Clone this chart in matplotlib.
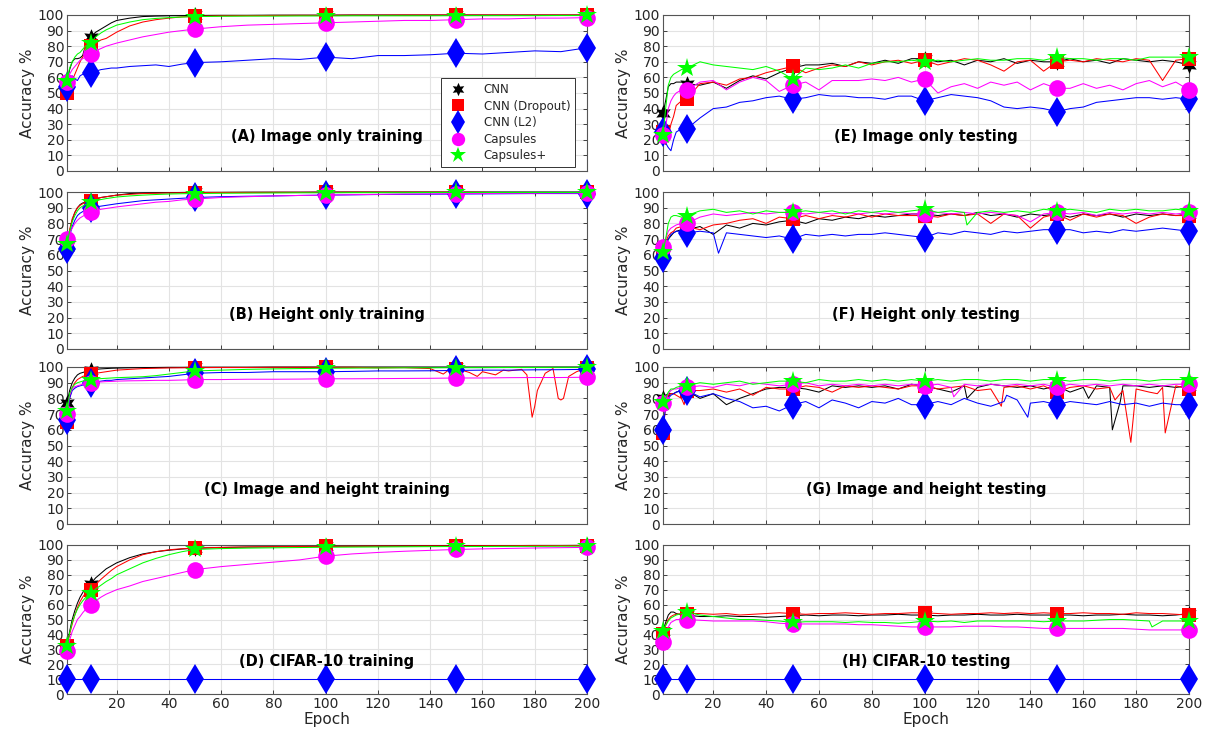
import matplotlib
matplotlib.use("Agg")
import matplotlib.pyplot as plt
from matplotlib.lines import Line2D

# epoch grids the values were read at
EP_TRAIN = [1, 2, 3, 4, 5, 6, 7, 8, 10, 12, 14, 16, 18, 20, 25, 30, 35, 40, 45, 50,
            60, 70, 80, 90, 100, 110, 120, 130, 140, 150, 160, 170, 180, 190, 200]
EP_TEST = [1, 2, 3, 4, 5, 6, 8, 10] + list(range(15, 205, 5))
MARK_EP = [1, 10, 50, 100, 150, 200]

NAMES = ["CNN", "CNN (Dropout)", "CNN (L2)", "Capsules", "Capsules+"]
COLORS = ["black", "#ff0000", "#0000ff", "#ff00ff", "#00ff00"]
MARKERS = [(6, 1, 0), "s", "d", "o", "*"]
MSIZES = [12, 10, 15, 12, 15]

# (A) Image only training
A_CNN = [57, 65, 70, 72, 72, 72.5, 74, 80, 86, 89, 91, 93, 95, 96.5, 98, 99, 99.3, 99.5, 99.6, 99.7,
         99.8, 99.8, 99.9, 99.9, 99.9, 100, 100, 100, 100, 100, 100, 100, 100, 100, 100]
A_DROP = [50, 55, 58, 62, 66, 70, 73, 76, 80, 82, 84, 85, 87, 89, 93, 95.5, 97, 98, 98.8, 99.2,
          99.5, 99.6, 99.7, 99.8, 99.8, 99.9, 99.9, 100, 100, 100, 100, 100, 100, 100, 100]
A_L2 = [54, 60, 61, 59, 58, 61, 62, 62, 63, 64, 65, 65.5, 66, 66, 67, 67.5, 68, 67, 68.5, 69.5,
        70, 71, 72, 71.5, 73, 72, 74, 74, 74.5, 75.5, 75, 76, 77, 76.5, 79]
A_CAPS = [57, 62, 65, 67, 69, 71, 72, 73, 75, 77, 78.5, 80, 81, 82, 84, 86, 87.5, 89, 90, 91,
          92.5, 93.5, 94, 94.5, 95, 95.5, 96, 96.5, 96.5, 97, 97.5, 97.5, 98, 98, 98.3]
A_CAPSP = [58, 66, 70, 73, 75, 76, 78, 80, 82, 86, 88.5, 90.5, 92, 93.5, 95.5, 97, 97.8, 98.3, 98.7, 99,
           99.2, 99.3, 99.3, 99.4, 99.4, 99.5, 99.5, 99.5, 99.5, 99.6, 99.6, 99.6, 99.6, 99.7, 99.7]

# (B) Height only training
B_CNN = [65, 75, 82, 87, 90, 92, 93, 93.5, 94.5, 95.5, 96.5, 97, 97.5, 98, 99, 99.3, 99.5, 99.6, 99.7, 99.8,
         99.8, 99.9, 99.9, 99.9, 100, 100, 100, 100, 100, 100, 100, 100, 100, 100, 100]
B_DROP = [67, 76, 83, 87, 90, 91.5, 92.5, 93.5, 94.5, 95.5, 96.5, 97, 97.5, 98, 98.5, 99, 99.2, 99.4, 99.5, 99.6,
          99.7, 99.7, 99.8, 99.8, 99.8, 99.9, 99.9, 99.9, 99.9, 99.9, 99.8, 99.5, 99, 99.5, 99.8]
B_L2 = [64, 72, 78, 82, 85, 86.5, 87.5, 88.5, 90, 90.5, 91, 91.5, 92, 92.5, 93.5, 94.5, 95, 95.5, 96, 96.5,
        97, 97.3, 97.5, 97.8, 98, 98.2, 98.4, 98.5, 98.6, 98.7, 98.8, 98.9, 99, 99, 99]
B_CAPS = [70, 74, 77, 80, 82, 83.5, 84.5, 85.5, 87, 88, 89, 89.5, 90, 90.5, 91.5, 92.5, 93.5, 94, 95, 95.5,
          96.5, 97, 97.5, 97.8, 98, 98.3, 98.5, 98.7, 98.8, 99, 99, 99.2, 99.2, 99.3, 99.3]
B_CAPSP = [67, 75, 81, 85, 88, 90, 91, 92, 93.5, 94.5, 95.2, 95.8, 96.3, 96.8, 97.5, 98, 98.4, 98.7, 98.9, 99,
           99.2, 99.3, 99.4, 99.5, 99.5, 99.6, 99.6, 99.6, 99.7, 99.7, 99.7, 99.7, 99.7, 99.7, 99.7]

# (C) Image and height training
C_CNN = [77, 85, 90, 93, 95, 96, 96.5, 97, 98, 98.5, 98.8, 99, 99.2, 99.3, 99.5, 99.6, 99.7, 99.8, 99.8, 99.9,
         99.9, 99.9, 100, 100, 100, 100, 100, 100, 100, 100, 100, 100, 100, 100, 100]
C_DROP = [65, 80, 87, 90, 92, 93, 94, 94.5, 95.5, 96, 96.5, 97, 97.5, 98, 98.5, 99, 99.2, 99.4, 99.5, 99.6,
          99.7, 99.7, 99.8, 99.8, 99.8, 99.8, 99.5, 99.6, 99, 99, 97, 97.5, 75, 79, 99.5]
C_DROP_X = [(145, 95.5), (147, 98), (155, 96.5), (158, 94), (165, 95), (168, 98), (175, 98.5), (177, 95),
            (179, 68), (181, 85), (184, 96), (187, 99), (189, 80), (191, 80), (193, 94), (196, 97)]
C_L2 = [66, 80, 85, 86.5, 87.5, 88, 88.5, 89, 90, 90.5, 91, 91.5, 91.5, 92, 92.5, 93, 93.5, 94, 95, 96,
        96.5, 96.5, 97, 97, 97, 97.2, 97.5, 97.5, 97.6, 97.8, 98, 98, 98.2, 98.3, 98.5]
C_CAPS = [70, 82, 86, 87.5, 88, 88.5, 89, 89.5, 90, 90.3, 90.5, 90.7, 90.8, 91, 91.2, 91.3, 91.5, 91.5, 91.7, 92,
          92, 92.2, 92.2, 92.3, 92.5, 92.5, 92.6, 92.7, 92.8, 93, 93, 93.2, 93.3, 93.3, 93.5]
C_CAPSP = [72, 83, 87, 89, 90, 90.5, 91, 91.3, 92, 92.3, 92.6, 92.8, 93, 93.2, 93.5, 93.8, 94.5, 95.5, 96.5, 97.5,
           98, 98.5, 98.8, 99, 99.2, 99.3, 99.4, 99.5, 99.5, 99.6, 99.6, 99.7, 99.7, 99.8, 99.8]

# (D) CIFAR-10 training
D_CNN = [32, 42, 50, 56, 61, 65, 68, 71, 74, 78, 81, 84, 86, 88, 91.5, 94, 95.5, 96.5, 97.3, 97.8,
         98.3, 98.6, 98.8, 99, 99.1, 99.2, 99.3, 99.4, 99.5, 99.5, 99.6, 99.6, 99.7, 99.7, 99.8]
D_DROP = [32, 40, 47, 53, 58, 62, 65, 67.5, 70, 73.5, 77, 80, 83, 85.5, 90, 93.5, 95.5, 96.8, 97.5, 98,
          98.4, 98.7, 98.9, 99, 99.1, 99.2, 99.3, 99.3, 99.4, 99.4, 99.5, 99.5, 99.6, 99.6, 99.6]
D_L2 = [10] * len(EP_TRAIN)
D_CAPS = [29, 36, 42, 46, 50, 52, 54.5, 56.5, 59.5, 62.5, 65, 67, 68.5, 70, 72.5, 75.5, 77.5, 79.5, 81.5, 83.5,
          85.5, 87, 88.5, 90, 92.5, 94, 95, 95.8, 96.4, 97, 97.4, 97.7, 98, 98.2, 98.4]
D_CAPSP = [32, 41, 48, 53, 57, 60, 62.5, 64.5, 67.5, 70.5, 73, 75.5, 77.5, 80, 84, 88, 91, 93.5, 95.5, 97,
           97.6, 97.9, 98.1, 98.3, 98.5, 98.6, 98.7, 98.8, 98.9, 99, 99, 99.1, 99.1, 99.2, 99.2]

# (E) Image only testing
E_CNN = [37, 45, 54, 56, 56, 57, 57, 56, 55, 57, 53, 58, 61, 59, 63, 66,
         68, 68, 69, 67, 70, 69, 71, 69, 72, 72, 70, 71, 68, 71, 70, 72, 69, 71, 70, 70,
         72, 70, 71, 69, 72, 71, 70, 71, 70, 68]
E_DROP = [25, 17, 22, 30, 35, 42, 45, 46, 56, 57, 55, 59, 60, 63, 65, 67,
          63, 66, 68, 67, 70, 68, 70, 71, 69, 71, 68, 70, 72, 71, 68, 64, 70, 71, 64, 70,
          71, 70, 72, 71, 70, 72, 71, 58, 71, 72]
E_L2 = [25, 18, 15, 13, 20, 25, 27, 27, 34, 40, 41, 44, 45, 47, 48, 46,
        47, 49, 48, 48, 47, 47, 46, 48, 48, 45, 47, 49, 48, 47, 45, 41, 40, 41, 40, 38,
        40, 41, 44, 45, 46, 47, 47, 46, 47, 46]
E_CAPS = [23, 28, 40, 45, 48, 50, 52, 52, 57, 58, 52, 57, 60, 58, 51, 55,
          57, 52, 58, 58, 58, 59, 58, 60, 57, 59, 50, 54, 56, 53, 57, 55, 57, 52, 56, 53,
          53, 56, 53, 55, 52, 56, 58, 54, 57, 52]
E_CAPSP = [23, 40, 55, 60, 62, 63, 65, 66, 70, 68, 67, 66, 65, 67, 64, 59,
           66, 65, 66, 68, 66, 69, 70, 70, 71, 70, 71, 70, 71, 72, 71, 71, 72, 72, 71, 73,
           72, 72, 71, 72, 72, 71, 73, 73, 73, 73]

# (F) Height only testing
F_CNN = [60, 66, 70, 72, 74, 75, 76, 76, 78, 73, 79, 77, 80, 79, 81, 82,
         80, 83, 82, 84, 83, 85, 84, 85, 86, 86, 85, 86, 85, 87, 85, 86, 84, 86, 85, 86,
         84, 86, 85, 86, 84, 86, 85, 86, 85, 86]
F_DROP = [62, 68, 72, 74, 75, 77, 78, 78, 76, 79, 80, 82, 83, 80, 84, 83,
          85, 83, 85, 84, 86, 84, 86, 85, 85, 85, 84, 86, 85, 86, 80, 86, 85, 77, 84, 86,
          82, 86, 84, 86, 85, 80, 84, 86, 85, 85]
F_L2 = [58, 65, 70, 73, 74, 75, 75, 74, 75, 74, 74, 73, 72, 71, 72, 70,
        73, 72, 73, 72, 73, 73, 74, 73, 72, 71, 74, 73, 75, 74, 73, 75, 74, 75, 76, 76,
        76, 74, 75, 74, 76, 75, 76, 77, 76, 75]
F_L2_X = [(22, 61)]
F_CAPS = [65, 70, 75, 77, 78, 79, 80, 80, 84, 86, 85, 86, 87, 86, 87, 87,
          86, 87, 86, 87, 86, 87, 86, 87, 86, 86, 87, 86, 87, 86, 87, 86, 85, 81, 86, 87,
          86, 87, 85, 87, 86, 87, 86, 87, 86, 87]
F_CAPSP = [62, 70, 80, 84, 85, 85, 84, 85, 88, 89, 87, 88, 86, 88, 87, 87,
           88, 87, 88, 86, 88, 87, 88, 87, 88, 89, 87, 88, 87, 87, 88, 87, 88, 87, 89, 88,
           89, 88, 87, 89, 88, 89, 88, 88, 89, 88]
F_CAPSP_X = [(116, 79)]

# (G) Image and height testing
G_CNN = [80, 82, 83, 83, 83, 84, 85, 85, 80, 83, 76, 80, 83, 86, 87, 87,
         86, 84, 88, 87, 88, 87, 88, 86, 89, 88, 86, 84, 88, 87, 89, 88, 87, 88, 86, 88,
         84, 87, 88, 87, 88, 88, 87, 88, 87, 88]
G_CNN_X = [(116, 80), (162, 80), (171, 60), (174, 78)]
G_DROP = [58, 75, 82, 83, 83, 82, 80, 85, 85, 86, 84, 86, 82, 87, 86, 86,
          88, 87, 84, 88, 87, 88, 87, 86, 88, 88, 86, 87, 88, 85, 86, 87, 88, 86, 88, 84,
          87, 88, 86, 87, 85, 86, 84, 87, 88, 86]
G_DROP_X = [(9, 76), (129, 75), (172, 79), (178, 52), (188, 83), (191, 58)]
G_L2 = [60, 75, 80, 82, 83, 84, 85, 85, 81, 83, 80, 78, 74, 75, 72, 76,
        78, 74, 79, 77, 74, 78, 77, 80, 76, 76, 78, 76, 80, 77, 75, 78, 79, 77, 78, 76,
        78, 77, 76, 78, 76, 77, 75, 77, 76, 76]
G_L2_X = [(131, 82), (139, 68)]
G_CAPS = [77, 80, 83, 85, 86, 86, 87, 87, 88, 87, 89, 88, 90, 89, 88, 89,
          90, 88, 89, 88, 89, 88, 89, 88, 89, 88, 89, 87, 89, 88, 89, 88, 89, 88, 89, 87,
          89, 88, 89, 88, 89, 88, 89, 88, 89, 89]
G_CAPS_X = [(111, 81)]
G_CAPSP = [78, 80, 84, 86, 86, 87, 88, 88, 90, 89, 90, 91, 89, 90, 91, 91,
           90, 92, 91, 91, 92, 91, 92, 91, 92, 91, 92, 91, 92, 92, 91, 92, 92, 91, 92, 92,
           91, 92, 92, 91, 92, 92, 91, 92, 92, 92]

# (H) CIFAR-10 testing
H_CNN = [42, 48, 53, 55, 55, 54, 53, 53, 52, 52, 52.5, 52, 52, 51.5, 52, 52.5,
         53, 52.5, 53, 53, 52.5, 53, 53, 53.5, 53, 53, 52.5, 53, 53, 53.5, 53, 53, 53.5, 53, 53, 53,
         53, 52.5, 53, 53, 53.5, 53, 53, 52.5, 53, 54]
H_DROP = [40, 46, 50, 52, 53, 53.5, 54, 54, 54, 53.5, 54, 53, 53.5, 54, 54.5, 54,
          53.5, 54, 54, 54.5, 54, 53.5, 54, 54, 54.5, 54.5, 54, 53.5, 54, 54, 54.5, 54, 54.5, 54, 54.5, 54,
          54, 54.5, 54, 54, 53.5, 54.5, 54, 54, 53.5, 53]
H_L2 = [10] * len(EP_TEST)
H_CAPS = [35, 40, 45, 48, 49, 50, 50, 50, 49.5, 49, 49, 49, 49, 48.5, 47.5, 47,
          47, 47, 47, 47, 46.5, 46.5, 46, 45.5, 45, 45, 45, 45, 45.5, 45.5, 45.5, 45, 45, 44.5, 44, 44,
          44, 44, 44, 44, 44, 43.5, 43, 43, 43, 43]
H_CAPSP = [42, 46, 49, 51, 52, 53, 54, 55, 53, 52, 51, 50, 50, 49.5, 49, 48,
           48.5, 48.5, 48.5, 48, 48.5, 48, 48, 47.5, 48, 49, 48.5, 49, 48, 49, 49, 49, 49, 49, 48.5, 49,
           49, 49, 49.5, 50, 50, 49.5, 49, 49, 49, 49]
H_CAPSP_X = [(186, 45)]

PANELS = [
    ("(A) Image only training", EP_TRAIN, [A_CNN, A_DROP, A_L2, A_CAPS, A_CAPSP], {}),
    ("(B) Height only training", EP_TRAIN, [B_CNN, B_DROP, B_L2, B_CAPS, B_CAPSP], {}),
    ("(C) Image and height training", EP_TRAIN, [C_CNN, C_DROP, C_L2, C_CAPS, C_CAPSP], {1: C_DROP_X}),
    ("(D) CIFAR-10 training", EP_TRAIN, [D_CNN, D_DROP, D_L2, D_CAPS, D_CAPSP], {}),
    ("(E) Image only testing", EP_TEST, [E_CNN, E_DROP, E_L2, E_CAPS, E_CAPSP], {}),
    ("(F) Height only testing", EP_TEST, [F_CNN, F_DROP, F_L2, F_CAPS, F_CAPSP], {2: F_L2_X, 4: F_CAPSP_X}),
    ("(G) Image and height testing", EP_TEST, [G_CNN, G_DROP, G_L2, G_CAPS, G_CAPSP],
     {0: G_CNN_X, 1: G_DROP_X, 2: G_L2_X, 3: G_CAPS_X}),
    ("(H) CIFAR-10 testing", EP_TEST, [H_CNN, H_DROP, H_L2, H_CAPS, H_CAPSP], {4: H_CAPSP_X}),
]


def merge(ep, vals, extra):
    pts = sorted(list(zip(ep, vals)) + list(extra))
    return [p[0] for p in pts], [p[1] for p in pts]


W, H = 1209, 740
ROWS = [(15, 171), (192, 349), (367, 524), (545, 694)]
COLS = [(67, 587), (663, 1189)]
DARK = "#262626"

fig = plt.figure(figsize=(W / 100, H / 100), dpi=100)

for i, (title, ep, series, extras) in enumerate(PANELS):
    col, row = divmod(i, 4)
    x0, x1 = COLS[col]
    top, bot = ROWS[row]
    ax = fig.add_axes([x0 / W, 1 - bot / H, (x1 - x0) / W, (bot - top) / H])

    for k, vals in enumerate(series):
        xs, ys = merge(ep, vals, extras.get(k, []))
        ax.plot(xs, ys, color=COLORS[k], lw=0.75, marker=MARKERS[k], ms=MSIZES[k],
                markevery=[xs.index(e) for e in MARK_EP], markeredgewidth=0,
                clip_on=False, zorder=3 + k)

    ax.set_xlim(1, 200)
    ax.set_ylim(0, 100)
    ax.set_xticks(range(20, 201, 20))
    ax.set_yticks(range(0, 101, 10))
    ax.grid(True, color="#e3e3e3", lw=0.8)
    ax.set_axisbelow(True)
    ax.tick_params(direction="in", top=True, right=True, length=3, width=0.6,
                   labelsize=10, colors=DARK, pad=2)
    for sp in ax.spines.values():
        sp.set_color("#555555")
        sp.set_linewidth(0.8)
    ax.set_ylabel("Accuracy %", fontsize=11, color=DARK, labelpad=2)
    if row == 3:
        ax.set_xlabel("Epoch", fontsize=11, color=DARK, labelpad=1)
    else:
        ax.tick_params(labelbottom=False)
    ax.text(0.5, 0.22, title, transform=ax.transAxes, ha="center", va="center",
            fontsize=10.5, fontweight="bold", color="black", zorder=10)

    if i == 0:
        handles = [Line2D([], [], ls="none", marker=MARKERS[k], ms=MSIZES[k] * 0.8,
                          color=COLORS[k], markeredgewidth=0) for k in range(5)]
        leg = ax.legend(handles, NAMES, loc="lower right", bbox_to_anchor=(0.977, 0.026),
                        fontsize=8.5, frameon=True, fancybox=False, framealpha=1,
                        edgecolor="#333333", borderpad=0.4, labelspacing=0.3,
                        handletextpad=1.2, borderaxespad=0)
        leg.get_frame().set_linewidth(0.7)
        leg.set_zorder(20)
        for t in leg.get_texts():
            t.set_color(DARK)

fig.savefig("out.png", dpi=100)
